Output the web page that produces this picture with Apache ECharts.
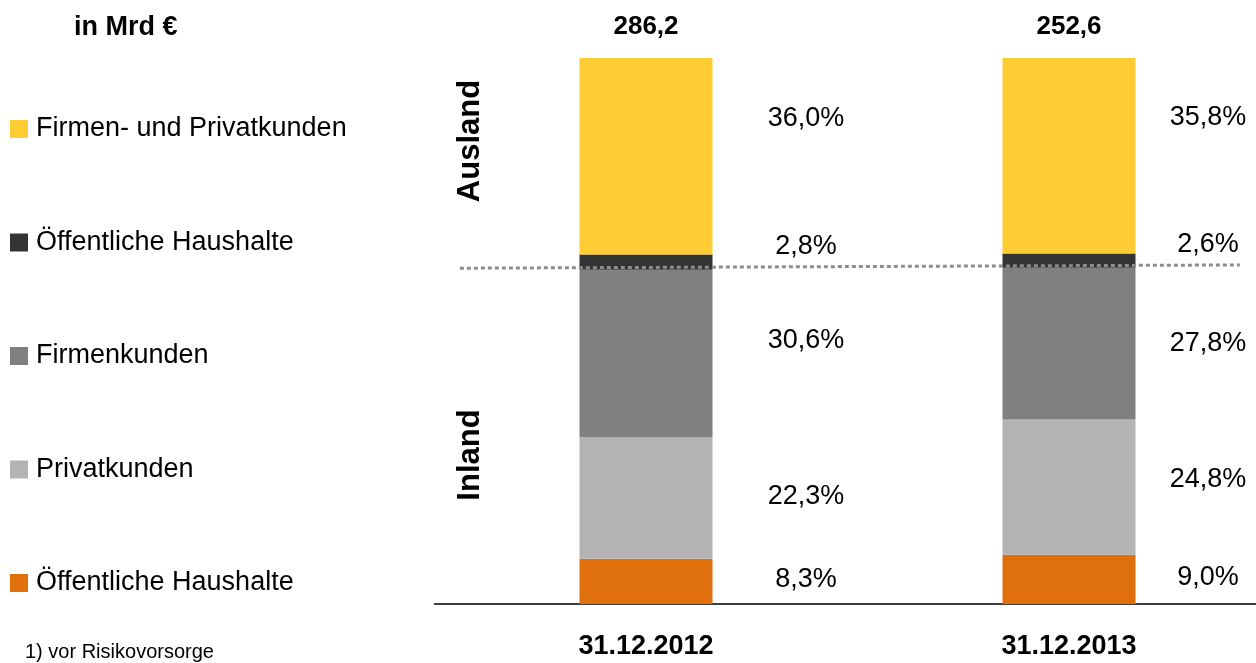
<!DOCTYPE html>
<html>
<head>
<meta charset="utf-8">
<script src="https://cdn.jsdelivr.net/npm/echarts@6/dist/echarts.min.js"></script>
<style>
  html, body { margin: 0; padding: 0; background: #fff; }
  #chart { width: 1256px; height: 663px; }
</style>
</head>
<body>
<div id="chart"></div>
<script>
var dates = ['31.12.2012', '31.12.2013'];
var totals = ['286,2', '252,6'];

// Anteile in %
var inlandOeffentlich = [8.3, 9.0];
var privatkunden = [22.3, 24.8];
var firmenkunden = [30.6, 27.8];
var auslandOeffentlich = [2.8, 2.6];
var auslandFirmenPrivat = [36.0, 35.8];

// Trennlinie Inland / Ausland (x als Anteil der Breite, y in %)
var dividerLine = [[0.03, 61.5], [0.952, 62.1]];

var font = 'Liberation Sans, Arial, sans-serif';
var labelShiftX = [160, 139];

function pct(v) {
    return v.toFixed(1).replace('.', ',') + '%';
}

// dy: vertical label shift per bar
function barSeries(name, values, color, dy) {
    return {
        type: 'bar',
        name: name,
        stack: 'total',
        barWidth: 133,
        itemStyle: { color: color },
        label: {
            show: true,
            position: 'inside',
            color: '#000',
            fontFamily: font,
            fontSize: 27,
            formatter: function (p) { return pct(p.value); }
        },
        data: values.map(function (v, i) {
            return { value: v, label: { offset: [labelShiftX[i], dy[i]] } };
        })
    };
}

var chart = echarts.init(document.getElementById('chart'));

var option = {
    animation: false,
    grid: {
        left: 434.5, width: 846, top: 58, bottom: 59,
        containLabel: false,
        outerBoundsMode: 'none'
    },
    legend: {
        orient: 'vertical',
        left: 10,
        top: 115,
        padding: 0,
        itemWidth: 18,
        itemHeight: 18,
        itemGap: 85.5,
        icon: 'rect',
        data: [
            'Firmen- und Privatkunden',
            'Öffentliche Haushalte (Ausland)',
            'Firmenkunden',
            'Privatkunden',
            'Öffentliche Haushalte (Inland)'
        ],
        formatter: function (name) { return name.replace(/ \(.*\)$/, ''); },
        textStyle: {
            fontFamily: font,
            fontSize: 27,
            lineHeight: 28,
            color: '#000',
            padding: [0, 0, 0, 3]
        }
    },
    xAxis: [
        {
            type: 'category',
            data: dates,
            axisLine: { lineStyle: { color: '#000', width: 1.5 } },
            axisTick: { show: false },
            axisLabel: {
                margin: 29,
                fontFamily: font,
                fontSize: 27,
                fontWeight: 'bold',
                color: '#000'
            }
        },
        {
            type: 'category',
            position: 'top',
            data: totals,
            axisLine: { show: false },
            axisTick: { show: false },
            axisLabel: {
                margin: 18,
                fontFamily: font,
                fontSize: 26,
                fontWeight: 'bold',
                color: '#000'
            }
        },
        {
            type: 'value',
            min: 0,
            max: 1,
            show: false
        }
    ],
    yAxis: { type: 'value', min: 0, max: 100, show: false },
    graphic: [
        {
            type: 'text', left: 74, top: 14,
            style: { text: 'in Mrd €', fontFamily: font, fontSize: 27, fontWeight: 'bold', fill: '#000' }
        },
        {
            type: 'text', left: 25, top: 642,
            style: { text: '1) vor Risikovorsorge', fontFamily: font, fontSize: 20, fill: '#000' }
        },
        {
            type: 'text', x: 470, y: 141, rotation: Math.PI / 2,
            style: { text: 'Ausland', fontFamily: font, fontSize: 31, fontWeight: 'bold', fill: '#000', align: 'center', verticalAlign: 'middle' }
        },
        {
            type: 'text', x: 470, y: 455, rotation: Math.PI / 2,
            style: { text: 'Inland', fontFamily: font, fontSize: 31, fontWeight: 'bold', fill: '#000', align: 'center', verticalAlign: 'middle' }
        }
    ],
    series: [
        barSeries('Öffentliche Haushalte (Inland)', inlandOeffentlich, '#E0700C', [-2, -2]),
        barSeries('Privatkunden', privatkunden, '#B3B3B3', [-1, -8]),
        barSeries('Firmenkunden', firmenkunden, '#808080', [-13, 0]),
        barSeries('Öffentliche Haushalte (Ausland)', auslandOeffentlich, '#333333', [-16, -16]),
        barSeries('Firmen- und Privatkunden', auslandFirmenPrivat, '#FFCC33', [-38, -38]),
        {
            type: 'line',
            xAxisIndex: 2,
            data: dividerLine,
            symbol: 'none',
            z: 5,
            silent: true,
            lineStyle: { color: '#8C8C8C', width: 3, type: [4, 3] }
        }
    ]
};

chart.setOption(option);
</script>
</body>
</html>
